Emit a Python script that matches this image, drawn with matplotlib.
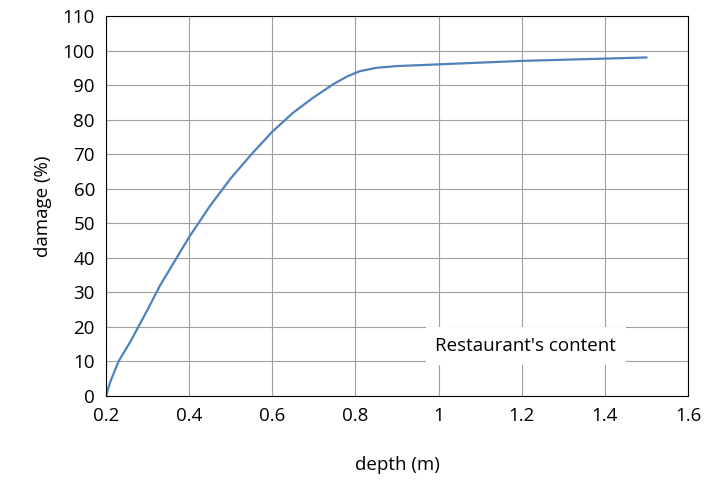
import matplotlib.pyplot as plt

plt.rcParams['font.family'] = ['Open Sans', 'DejaVu Sans']

depth = [0.2, 0.21, 0.23, 0.26, 0.3, 0.33, 0.37, 0.4, 0.45, 0.5, 0.55, 0.6, 0.65,
         0.7, 0.75, 0.78, 0.81, 0.85, 0.9, 1.0, 1.1, 1.2, 1.35, 1.5]
damage = [0, 4, 10, 16, 25, 32, 40, 46, 55, 63, 70, 76.5, 82, 86.5, 90.5, 92.5,
          94, 95, 95.5, 96, 96.5, 97, 97.5, 98]

fig = plt.figure(figsize=(7.08, 4.92), dpi=100)
ax = fig.add_axes([106/708, 96/492, 582/708, 380/492])
ax.plot(depth, damage, color='#4f81bd', lw=1.6)
ax.set_xlim(0.2, 1.6)
ax.set_ylim(0, 110)
ax.set_xticks([0.2, 0.4, 0.6, 0.8, 1.0, 1.2, 1.4, 1.6])
ax.set_xticklabels(['0.2', '0.4', '0.6', '0.8', '1', '1.2', '1.4', '1.6'])
ax.set_yticks(range(0, 111, 10))
ax.grid(True, color='#a0a0a0', lw=0.8)
ax.tick_params(length=0, labelsize=13.5, pad=8)
for s in ax.spines.values():
    s.set_color('black')
    s.set_linewidth(0.8)
ax.set_xlabel('depth (m)', fontsize=13.5, labelpad=22)
ax.set_ylabel('damage (%)', fontsize=13.5, labelpad=8)
ax.text(1.21, 14.5, "Restaurant's content", fontsize=13.5, ha='center', va='center',
        bbox=dict(facecolor='white', edgecolor='none', pad=7))
fig.savefig('out.png')
